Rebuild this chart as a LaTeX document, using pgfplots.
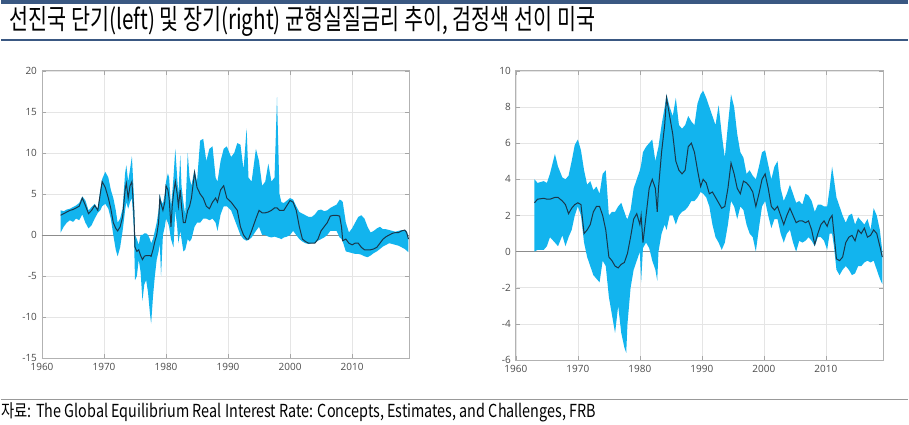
\documentclass[border=0pt]{standalone}
\usepackage{pgfplots}
\pgfplotsset{compat=1.18}
\usepackage{pgfplotstable}
\usepackage{fontspec}
\setmainfont{Open Sans}
\newfontfamily\kr{Noto Sans CJK KR}
\definecolor{band}{RGB}{18,180,238}
\definecolor{midline}{RGB}{25,55,75}
\definecolor{barblue}{RGB}{58,88,130}

\pgfplotstableread{
yr lo up mid
1963.0 0.3 3.0 2.4
1963.5 1.0 2.9 2.6
1964.0 1.5 3.1 2.8
1964.5 1.8 3.2 3.0
1965.0 1.6 3.4 3.1
1965.5 2.0 3.6 3.3
1966.0 1.8 3.9 3.5
1966.5 2.5 4.7 4.5
1967.0 1.5 4.2 3.6
1967.5 0.8 3.0 2.6
1968.0 1.2 3.4 3.0
1968.5 2.0 3.8 3.6
1969.0 2.7 3.2 3.0
1969.4 3.0 5.5 5.0
1969.7 3.5 6.8 6.5
1970.2 3.8 7.7 5.8
1970.7 3.2 7.0 4.5
1971.1 2.0 5.5 3.2
1971.5 0.0 4.5 1.5
1971.9 -1.8 3.0 0.8
1972.2 -2.6 1.5 0.5
1972.6 -1.5 2.0 1.0
1973.0 0.5 3.2 2.2
1973.4 3.0 7.5 5.5
1973.6 4.0 8.5 6.3
1973.9 3.2 6.5 4.5
1974.2 4.0 8.0 6.0
1974.5 4.5 9.6 6.5
1974.8 1.0 5.0 3.0
1975.0 -5.5 0.0 -1.5
1975.3 -5.0 -0.5 -2.0
1975.6 -3.0 -1.2 -1.8
1975.9 -4.5 0.0 -2.5
1976.2 -8.0 0.0 -3.0
1976.5 -6.0 0.2 -2.6
1976.8 -5.5 0.2 -2.5
1977.1 -7.0 0.0 -2.5
1977.4 -9.5 -0.5 -2.5
1977.6 -10.8 -1.0 -2.6
1977.9 -7.5 -0.5 -1.8
1978.2 -5.0 0.5 -0.8
1978.5 -3.0 1.5 0.0
1978.8 -2.0 3.0 1.5
1979.0 -1.0 5.0 4.5
1979.2 -5.0 4.2 3.8
1979.5 0.0 3.8 3.0
1979.8 1.0 5.0 4.0
1980.0 2.0 6.5 6.0
1980.3 1.5 7.5 5.5
1980.5 1.0 7.0 4.5
1980.8 -0.5 3.5 1.0
1981.0 -1.0 5.0 3.5
1981.2 -1.5 7.0 5.0
1981.5 3.0 10.5 6.5
1981.8 1.0 7.0 5.0
1982.0 -1.0 5.0 3.5
1982.3 0.5 9.7 5.5
1982.5 -0.5 6.0 3.5
1982.8 -2.0 4.0 1.5
1983.1 -1.8 2.5 1.5
1983.5 -0.5 10.0 3.0
1983.8 -0.8 7.0 3.5
1984.1 -0.5 6.0 4.5
1984.6 1.0 8.0 7.6
1985.0 1.5 6.5 5.8
1985.5 1.5 11.5 5.0
1986.0 2.0 11.7 4.5
1986.5 2.0 9.0 3.5
1987.0 1.8 10.5 3.2
1987.5 2.0 10.8 4.0
1988.0 1.5 7.0 4.5
1988.3 0.5 6.5 4.0
1988.8 2.5 9.0 5.5
1989.3 3.5 10.5 6.0
1989.8 3.5 10.8 4.5
1990.5 3.0 9.5 4.0
1991.0 2.0 10.0 3.5
1991.5 1.0 11.2 3.0
1992.0 0.0 11.0 1.0
1992.5 -0.5 8.0 0.0
1993.0 -0.7 13.0 -0.5
1993.3 -0.6 7.0 -0.5
1993.8 -0.3 6.5 0.5
1994.5 0.5 10.5 2.0
1995.0 1.0 9.0 3.0
1995.5 0.0 6.0 2.7
1996.0 0.0 6.5 2.7
1996.5 -0.2 8.7 2.8
1997.0 -0.3 6.5 3.0
1997.5 -0.2 7.0 3.3
1997.9 -0.3 16.8 3.3
1998.3 -0.4 5.0 3.0
1998.6 -0.5 4.0 3.0
1999.0 -0.3 3.9 3.0
1999.5 -0.2 4.2 3.6
2000.0 0.0 4.5 4.2
2000.5 0.5 4.3 4.0
2001.0 0.0 3.5 3.0
2001.5 -0.5 2.8 1.0
2002.0 -0.8 2.6 -0.5
2002.5 -1.0 2.4 -0.8
2003.0 -1.1 2.2 -1.0
2003.5 -1.0 2.2 -1.0
2004.0 -1.0 2.5 -1.0
2004.5 -0.7 3.0 -0.5
2005.0 -0.5 3.1 0.5
2005.5 -0.3 2.9 1.0
2006.0 0.0 3.0 1.5
2006.5 0.5 3.3 2.3
2007.0 0.5 3.5 2.4
2007.5 0.5 3.7 2.4
2008.0 -0.3 4.3 2.3
2008.3 -0.5 4.2 1.0
2008.5 -0.8 4.0 -0.7
2009.0 -2.0 1.5 -0.5
2009.5 -2.1 0.3 -1.0
2010.0 -2.2 0.8 -1.2
2010.5 -2.3 1.5 -1.0
2011.0 -2.3 2.2 -1.0
2011.5 -2.4 2.4 -1.5
2012.0 -2.6 2.0 -1.8
2012.5 -2.7 1.0 -1.8
2013.0 -2.5 0.3 -1.8
2013.5 -2.2 0.5 -1.7
2014.0 -2.0 0.8 -1.5
2014.5 -1.7 1.0 -1.0
2015.0 -1.4 0.7 -0.5
2015.5 -1.2 0.7 -0.2
2016.0 -1.0 0.6 0.0
2016.5 -1.1 0.5 0.2
2017.0 -1.2 0.4 0.3
2017.5 -1.3 0.5 0.3
2018.0 -1.5 0.6 0.5
2018.5 -1.7 0.6 0.6
2018.8 -1.9 0.5 0.3
2019.1 -2.1 -0.3 -0.5
}\shortrate

\pgfplotstableread{
yr lo up mid
1963.0 0.0 4.0 2.7
1963.5 0.1 3.8 2.9
1964.5 0.1 3.9 2.95
1965.0 0.3 3.8 2.9
1965.5 0.8 4.3 2.9
1966.3 0.5 5.4 3.0
1966.8 0.3 4.7 3.0
1967.5 0.9 4.1 2.8
1968.0 0.3 4.0 2.6
1968.5 0.8 4.2 2.1
1969.0 1.2 5.0 2.4
1969.5 2.0 5.9 2.6
1970.0 2.5 6.2 2.7
1970.5 2.0 5.6 2.6
1971.0 0.5 4.5 1.0
1971.5 -0.3 3.7 1.2
1972.0 -0.8 3.9 1.5
1972.5 -1.3 3.4 2.2
1973.0 -1.5 3.6 2.5
1973.5 -1.7 3.2 2.5
1974.0 -0.5 4.3 2.0
1974.5 -0.8 4.5 1.2
1975.0 -2.5 2.0 -0.3
1975.5 -3.5 2.2 -0.5
1976.0 -4.5 2.2 -0.8
1976.5 -3.0 2.5 -0.9
1977.0 -4.5 2.7 -0.7
1977.5 -5.3 2.2 -0.6
1977.8 -5.6 1.9 -0.3
1978.0 -4.0 1.8 -0.1
1978.5 -2.0 2.3 0.8
1979.0 -1.0 3.5 1.8
1979.5 -0.5 4.0 2.1
1980.0 0.0 4.5 1.5
1980.2 -1.7 4.8 2.0
1980.5 0.2 5.5 0.5
1981.0 0.5 5.8 2.0
1981.5 0.2 6.0 3.5
1982.0 -0.5 6.2 4.0
1982.5 -1.0 5.0 3.5
1982.8 -1.6 5.5 2.2
1983.0 0.0 5.8 3.5
1983.5 1.0 7.0 5.5
1984.0 1.5 8.0 7.0
1984.3 1.2 8.7 8.5
1984.8 2.0 8.0 7.5
1985.3 2.0 7.5 6.5
1985.8 1.5 8.5 5.0
1986.3 2.0 7.0 4.5
1986.8 2.2 6.8 4.3
1987.3 2.3 7.0 4.5
1987.8 2.5 7.5 5.8
1988.3 2.8 7.2 6.0
1988.8 2.8 7.0 5.5
1989.3 3.0 8.2 4.5
1989.8 3.3 8.7 3.6
1990.2 3.2 8.9 4.0
1990.7 3.0 8.5 3.8
1991.2 2.5 8.0 3.2
1991.7 1.5 7.5 3.3
1992.2 0.8 7.0 3.0
1992.7 0.5 8.1 2.7
1993.2 0.1 6.5 2.4
1993.7 0.5 5.2 2.5
1994.2 1.5 7.0 3.5
1994.7 2.8 8.7 4.9
1995.2 2.5 8.0 4.3
1995.7 1.8 6.5 3.5
1996.2 2.5 5.5 3.2
1996.7 2.3 5.2 3.9
1997.2 1.5 4.3 3.8
1997.7 1.0 4.5 3.6
1998.2 0.8 4.2 3.3
1998.7 0.0 4.0 2.5
1999.2 1.3 4.7 3.2
1999.7 2.5 5.5 4.0
2000.2 2.8 5.6 4.3
2000.7 2.0 4.8 3.5
2001.2 1.3 4.0 2.5
2001.7 1.8 4.7 2.3
2002.2 1.8 5.0 2.5
2002.7 1.0 3.5 2.0
2003.2 0.5 2.8 1.5
2003.7 1.0 3.2 2.0
2004.2 1.2 3.7 2.4
2004.7 0.5 3.2 2.0
2005.2 0.0 2.7 1.6
2005.7 0.6 2.8 1.7
2006.2 0.5 2.6 1.7
2006.7 0.6 3.2 1.6
2007.2 0.8 3.1 1.7
2007.7 0.6 2.8 1.2
2008.2 0.3 2.2 0.4
2008.7 0.8 2.6 1.0
2009.2 0.8 2.6 1.5
2009.7 0.6 2.5 1.7
2010.2 0.1 2.5 1.4
2010.6 1.0 3.5 1.8
2011.0 1.0 4.7 2.0
2011.3 0.3 4.0 1.0
2011.7 -1.0 3.0 -0.4
2012.2 -1.3 2.5 -0.5
2012.7 -1.0 2.0 -0.3
2013.2 -0.8 1.6 0.5
2013.7 -1.0 2.0 0.8
2014.2 -1.3 2.1 0.9
2014.7 -1.2 1.5 0.6
2015.2 -0.8 1.9 1.2
2015.7 -0.8 1.7 1.0
2016.2 -0.6 1.5 1.3
2016.7 -0.5 1.8 0.8
2017.2 -0.6 1.2 0.9
2017.7 -0.5 2.4 1.2
2018.2 -1.0 2.0 1.0
2018.7 -1.5 1.2 0.3
2019.1 -1.8 0.0 -0.3
}\longrate

\pgfplotsset{
  rchart/.style={
    scale only axis,
    width=184pt,
    xmin=1960, xmax=2019.2,
    xtick={1960,1970,1980,1990,2000,2010},
    /pgf/number format/1000 sep={},
    /pgf/number format/assume math mode=true,
    axis line style={draw=black!30},
    tick style={draw=black!35, major tick length=2pt},
    xtick pos=both, ytick pos=both,
    grid=major,
    grid style={draw=black!10, line width=0.3pt},
    tick label style={font=\fontsize{5}{6}\selectfont, text=black!70},
    xticklabel style={yshift=1pt},
    yticklabel style={xshift=1pt},
  }
}

\begin{document}
\begin{tikzpicture}
\fill[white] (0,0) rectangle (454.5pt,213pt);
\fill[barblue] (0,211.2pt) rectangle (454.5pt,213pt);
\draw[barblue, line width=1.1pt] (0,193pt) -- (454.5pt,193pt);
\node[anchor=west, inner sep=0pt] at (4pt,202.5pt)
  {\scalebox{0.74}[1]{\kr\fontsize{14}{16}\selectfont 선진국 단기(left) 및 장기(right) 균형실질금리 추이, 검정색 선이 미국}};
\draw[black!40, line width=0.8pt] (0,12.8pt) -- (454.5pt,12.8pt);
\node[anchor=west, inner sep=0pt] at (0pt,6.2pt)
  {\scalebox{0.8}[1]{\kr\fontsize{9}{10}\selectfont 자료: The Global Equilibrium Real Interest Rate: Concepts, Estimates, and Challenges, FRB}};

\begin{axis}[rchart, at={(20.5pt,33.5pt)}, anchor=south west,
  height=144pt, ymin=-15, ymax=20, ytick={-15,-10,...,20}]
  \addplot[black!45, line width=0.4pt, forget plot] coordinates {(1960,0) (2019.2,0)};
  \addplot[draw=none, stack plots=y, forget plot] table[x=yr, y=lo] {\shortrate};
  \addplot[fill=band, draw=none, stack plots=y, forget plot] table[x=yr, y expr=\thisrow{up}-\thisrow{lo}] {\shortrate} \closedcycle;
  \addplot[midline, line width=0.5pt, stack plots=false, forget plot] table[x=yr, y=mid] {\shortrate};
\end{axis}

\begin{axis}[rchart, at={(258pt,32.5pt)}, anchor=south west,
  height=145pt, ymin=-6, ymax=10, ytick={-6,-4,...,10}]
  \addplot[black!45, line width=0.4pt, forget plot] coordinates {(1960,0) (2019.2,0)};
  \addplot[draw=none, stack plots=y, forget plot] table[x=yr, y=lo] {\longrate};
  \addplot[fill=band, draw=none, stack plots=y, forget plot] table[x=yr, y expr=\thisrow{up}-\thisrow{lo}] {\longrate} \closedcycle;
  \addplot[midline, line width=0.5pt, stack plots=false, forget plot] table[x=yr, y=mid] {\longrate};
\end{axis}
\end{tikzpicture}
\end{document}
